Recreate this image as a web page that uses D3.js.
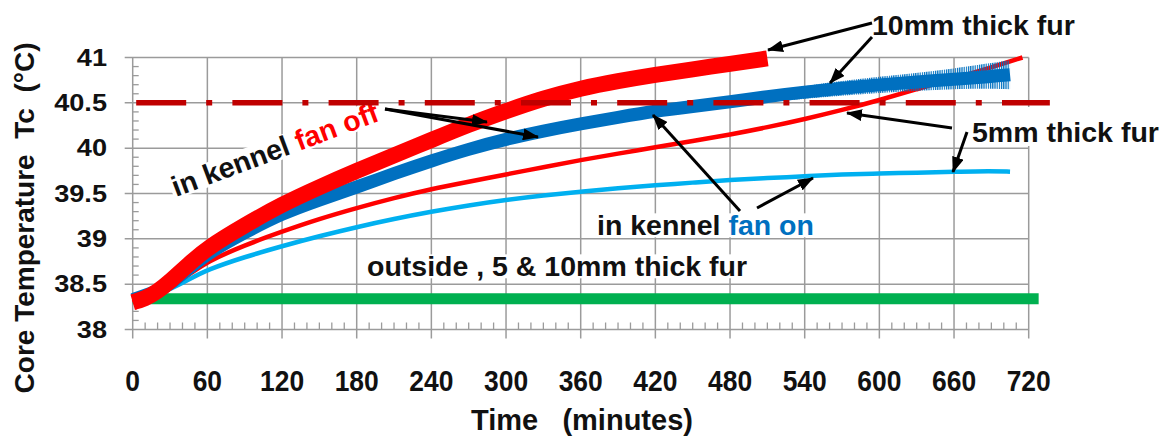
<!DOCTYPE html>
<html><head><meta charset="utf-8">
<script src="https://cdn.jsdelivr.net/npm/d3@7"></script>
<style>body{margin:0;background:#fff}svg{display:block}</style>
</head><body>
<svg id="c" width="1169" height="438"></svg>
<script>
// ---------- data ----------
const xTickValues = [0,60,120,180,240,300,360,420,480,540,600,660,720];
const yTickValues = [38,38.5,39,39.5,40,40.5,41];
const yTickLabels = ["38","38.5","39","39.5","40","40.5","41"];

// 10mm fur, in kennel, fan off (thick red)
const t10off = [0,10,20,30,45,60,90,120,150,180,210,240,270,300,330,360,390,420,450,480,510];
const v10off = [38.30,38.34,38.42,38.53,38.72,38.90,39.15,39.38,39.57,39.75,39.92,40.09,40.26,40.41,40.55,40.66,40.74,40.81,40.87,40.93,40.99];
// 10mm fur, in kennel, fan on (thick blue)
const t10on = [0,20,30,45,60,90,120,150,180,210,240,270,300,330,360,390,420,450,480,510,540,570,600,630,660,690,705];
const v10on = [38.33,38.42,38.50,38.67,38.84,39.07,39.28,39.43,39.57,39.72,39.86,39.99,40.10,40.19,40.27,40.34,40.41,40.46,40.51,40.57,40.62,40.66,40.70,40.73,40.76,40.79,40.81];
// scatter band at the end of the fan-on 10mm record
const tNoise = [520,560,600,640,680,705];
const vNoise = [40.58,40.65,40.70,40.74,40.79,40.81];
const hNoise = [0.06,0.08,0.09,0.10,0.13,0.16];
// 5mm fur, in kennel, fan off (thin red)
const t5off = [0,20,30,45,60,90,120,150,180,210,240,270,300,330,360,390,420,450,480,510,540,570,600,630,660,690,715];
const v5off = [38.30,38.42,38.48,38.60,38.75,38.93,39.08,39.22,39.34,39.45,39.55,39.63,39.71,39.79,39.87,39.94,40.01,40.08,40.15,40.23,40.32,40.42,40.53,40.65,40.77,40.89,41.00];
// 5mm fur, in kennel, fan on (thin light blue)
const t5on = [0,20,30,45,60,90,120,150,180,210,240,270,300,330,360,390,420,450,480,510,540,570,600,630,660,690,705];
const v5on = [38.33,38.40,38.44,38.55,38.66,38.80,38.92,39.03,39.13,39.22,39.30,39.37,39.43,39.48,39.52,39.56,39.59,39.62,39.65,39.67,39.69,39.71,39.72,39.73,39.74,39.75,39.74];
// outside, 5 & 10mm fur (green)
const tOut = [0,60,120,180,240,300,360,420,480,540,600,660,720,728];
const vOut = [38.34,38.34,38.34,38.34,38.34,38.34,38.34,38.34,38.34,38.34,38.34,38.34,38.34,38.34];
// 40.5 °C reference line
const refValue = 40.5;
const refSpan = [2,737];

// ---------- drawing ----------
const svg = d3.select("#c");
const FONT = "'Liberation Sans', Arial, sans-serif";
const x = d3.scaleLinear().domain([0,720]).range([132.7,1028.7]);
const y = d3.scaleLinear().domain([38,41]).range([329.5,57.5]);
const x0 = x(0), xEnd = x(720), yTop = y(41), yBot = y(38);
const gridC = "#9b9b9b";

const defs = svg.append("defs");
defs.append("marker").attr("id","ah").attr("viewBox","0 0 16 12")
  .attr("refX",15).attr("refY",6).attr("markerWidth",16).attr("markerHeight",12)
  .attr("markerUnits","userSpaceOnUse").attr("orient","auto")
  .append("path").attr("d","M0,0 L16,6 L0,12 Z").attr("fill","#000");
const pat = defs.append("pattern").attr("id","comb").attr("patternUnits","userSpaceOnUse")
  .attr("width",2.2).attr("height",10);
pat.append("rect").attr("x",0).attr("y",0).attr("width",1.2).attr("height",10).attr("fill","#0070C0");

// grid
const g = svg.append("g");
xTickValues.filter(d=>d>0).forEach(d=>{
  g.append("line").attr("x1",x(d)).attr("x2",x(d)).attr("y1",yTop).attr("y2",yBot+9)
   .attr("stroke",gridC).attr("stroke-width",1.5);
});
yTickValues.forEach(d=>{
  g.append("line").attr("x1",x0-8).attr("x2",xEnd).attr("y1",y(d)).attr("y2",y(d))
   .attr("stroke",gridC).attr("stroke-width",1.5);
});
// axes
g.append("line").attr("x1",x0).attr("x2",x0).attr("y1",yTop).attr("y2",yBot+9).attr("stroke",gridC).attr("stroke-width",1.5);
d3.range(0,720,10).filter(d=>d%60!==0).forEach(d=>{
  g.append("line").attr("x1",x(d)).attr("x2",x(d)).attr("y1",yBot).attr("y2",yBot-7).attr("stroke",gridC).attr("stroke-width",1.3);
});
d3.range(0,31).map(i=>38+i*0.1).filter((d,i)=>i%5!==0).forEach(d=>{
  g.append("line").attr("x1",x0).attr("x2",x0+6).attr("y1",y(d)).attr("y2",y(d)).attr("stroke",gridC).attr("stroke-width",1.3);
});

// tick labels
yTickValues.forEach((d,i)=>{
  svg.append("text").attr("transform",`translate(107,${y(d)+8}) scale(1.18,1)`)
    .attr("text-anchor","end").attr("font-family",FONT).attr("font-weight","bold")
    .attr("font-size",23).attr("fill","#111").text(yTickLabels[i]);
});
xTickValues.forEach(d=>{
  svg.append("text").attr("transform",`translate(${x(d)},391) scale(0.88,1)`)
    .attr("text-anchor","middle").attr("font-family",FONT).attr("font-weight","bold")
    .attr("font-size",30).attr("fill","#111").text(d);
});
// axis titles
svg.append("text").attr("transform","translate(33.5,218) rotate(-90)").attr("text-anchor","middle")
  .attr("font-family",FONT).attr("font-weight","bold").attr("font-size",28).attr("fill","#111")
  .attr("xml:space","preserve").text("Core Temperature  Tc  (°C)");
svg.append("text").attr("x",582).attr("y",430).attr("text-anchor","middle")
  .attr("font-family",FONT).attr("font-weight","bold").attr("font-size",29).attr("fill","#111")
  .attr("xml:space","preserve").text("Time   (minutes)");

// series
const mk = (ts,vs)=>ts.map((t,i)=>[t,vs[i]]);
const line = d3.line().x(d=>x(d[0])).y(d=>y(d[1])).curve(d3.curveBasis);
const draw = (ts,vs,color,w)=>svg.append("path").attr("d",line(mk(ts,vs)))
  .attr("fill","none").attr("stroke",color).attr("stroke-width",w).attr("stroke-linejoin","round");

draw(tOut,vOut,"#00B050",11);
draw(t5on,v5on,"#00B0F0",4.5);
draw(t5off,v5off,"#FF0000",4.5);
draw(t10on,v10on,"#0070C0",13);
const area = d3.area().x(d=>x(d[0])).y0(d=>y(d[1]-d[2])).y1(d=>y(d[1]+d[2])).curve(d3.curveBasis);
svg.append("path").attr("d",area(tNoise.map((t,i)=>[t,vNoise[i],hNoise[i]]))).attr("fill","url(#comb)");
draw(t10off,v10off,"#FF0000",16);

// annotations
function label(parent, parts, fs, boxPad){
  const t = parent.append("text").attr("font-family",FONT).attr("font-weight","bold").attr("font-size",fs).attr("xml:space","preserve");
  parts.forEach(p=>t.append("tspan").attr("fill",p[1]).text(p[0]));
  const bb = t.node().getBBox();
  const p = boxPad || [2,2,0.76*fs,0.08*fs];
  parent.insert("rect","text").attr("x",bb.x-p[0]).attr("width",bb.width+p[0]+p[1])
    .attr("y",-p[2]).attr("height",p[2]+p[3]).attr("fill","#fff");
  return t;
}
const a1 = svg.append("g").attr("transform","translate(176,197) rotate(-20.5)");
label(a1,[["in kennel ","#111"],["fan off","#FF0000"]],28.5);
const a2 = svg.append("g").attr("transform","translate(597,235)");
label(a2,[["in kennel ","#111"],["fan on","#0070C0"]],28.5);
const a3 = svg.append("g").attr("transform","translate(367,276)");
label(a3,[["outside , 5 & 10mm thick fur","#111"]],28.5);
const a4 = svg.append("g").attr("transform","translate(872,35)");
label(a4,[["10mm thick fur","#111"]],28.5);
const a5 = svg.append("g").attr("transform","translate(972,142)");
label(a5,[["5mm thick fur","#111"]],28.5,[10,10,35,4]);

// reference line (drawn above the curves)
svg.append("line").attr("x1",x(refSpan[0])+1).attr("x2",x(refSpan[1])).attr("y1",y(refValue)).attr("y2",y(refValue))
  .attr("stroke","#C00000").attr("stroke-width",5.5).attr("stroke-dasharray","50,20,6,20.2");

const arrows = [
  [872,23,768,50],[872,37,830,83],
  [952,128,847,113],[967,132,953,172],
  [740,211,653,115],[757,208,813,178],
  [385,109,487,122],[385,109,538,137]
];
arrows.forEach(a=>{
  svg.append("line").attr("x1",a[0]).attr("y1",a[1]).attr("x2",a[2]).attr("y2",a[3])
    .attr("stroke","#000").attr("stroke-width",3).attr("marker-end","url(#ah)");
});
</script>
</body></html>
